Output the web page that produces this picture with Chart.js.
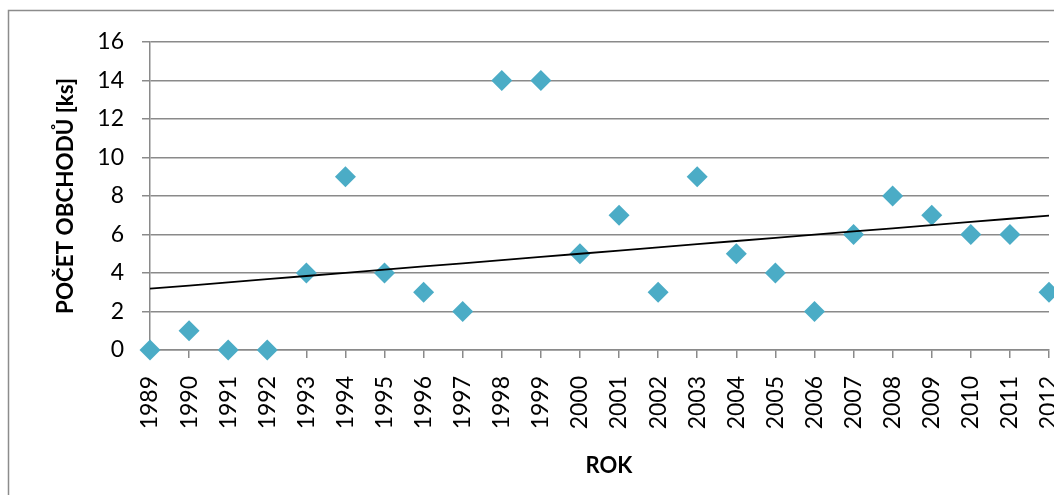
<!DOCTYPE html>
<html lang="cs">
<head>
<meta charset="utf-8">
<title>Počet obchodů podle roku</title>
<script src="https://cdn.jsdelivr.net/npm/chart.js@4/dist/chart.umd.min.js"></script>
<style>
  html, body { margin: 0; padding: 0; background: #fff; overflow: hidden; }
  #wrap { width: 1054px; height: 495px; overflow: hidden; position: relative; }
  canvas { display: block; }
</style>
</head>
<body>
<div id="wrap"><canvas id="c" width="1130" height="495"></canvas></div>
<script>
// Roky (kategorie osy X)
const years = ['1989','1990','1991','1992','1993','1994','1995','1996','1997','1998','1999','2000',
               '2001','2002','2003','2004','2005','2006','2007','2008','2009','2010','2011','2012'];
// Počet obchodů [ks] v jednotlivých letech
const deals = [0, 1, 0, 0, 4, 9, 4, 3, 2, 14, 14, 5, 7, 3, 9, 5, 4, 2, 6, 8, 7, 6, 6, 3];
// Popisky osy Y
const yTicks = [0, 2, 4, 6, 8, 10, 12, 14, 16];

const yTitle = 'POČET OBCHODŮ [ks]';
const xTitle = 'ROK';

// Lineární trend (metoda nejmenších čtverců) přes pořadí roku
function linearTrend(values) {
  const n = values.length;
  const mx = (n - 1) / 2;
  const my = values.reduce((s, v) => s + v, 0) / n;
  let sxy = 0, sxx = 0;
  values.forEach((v, i) => { sxy += (i - mx) * (v - my); sxx += (i - mx) * (i - mx); });
  const k = sxy / sxx;
  const q = my - k * mx;
  return values.map((_, i) => q + k * i);
}
const trend = linearTrend(deals);

const GRID = '#8a8a8a';
const FONT = 'Lato, "Open Sans", sans-serif';

// Rámeček kolem celého grafu
const framePlugin = {
  id: 'frame',
  beforeDraw(chart) {
    const ctx = chart.ctx;
    ctx.save();
    ctx.strokeStyle = '#8c8c8c';
    ctx.lineWidth = 1.5;
    ctx.strokeRect(8.5, 10.5, 2000, 2000);
    ctx.restore();
  }
};

// Popisky os: svislý nadpis vlevo, vodorovný pod osou X
const axisTitlesPlugin = {
  id: 'axisTitles',
  afterDraw(chart) {
    const ctx = chart.ctx;
    ctx.save();
    ctx.fillStyle = '#000';
    ctx.textAlign = 'center';
    ctx.textBaseline = 'middle';

    // svislý nadpis, délka textu cca 236 px
    ctx.font = 'bold 24px ' + FONT;
    const w = ctx.measureText(yTitle).width;
    const size = 24 * 236 / w;
    ctx.font = 'bold ' + size.toFixed(2) + 'px ' + FONT;
    ctx.save();
    ctx.translate(66, 196);
    ctx.rotate(-Math.PI / 2);
    ctx.fillText(yTitle, 0, 0);
    ctx.restore();

    ctx.font = 'bold 22px ' + FONT;
    ctx.fillText(xTitle, 609, 466);
    ctx.restore();
  }
};

new Chart(document.getElementById('c'), {
  type: 'line',
  data: {
    labels: years,
    datasets: [
      {
        label: 'Trend',
        data: trend,
        borderColor: '#000000',
        borderWidth: 1.8,
        pointRadius: 0,
        fill: false,
        clip: false,
        order: 0
      },
      {
        label: 'Počet obchodů',
        data: deals,
        showLine: false,
        pointStyle: 'rectRot',
        pointRadius: 10.5,
        pointBackgroundColor: '#4bacc6',
        pointBorderColor: '#4bacc6',
        pointBorderWidth: 0,
        clip: false,
        order: 1
      }
    ]
  },
  options: {
    responsive: false,
    animation: false,
    events: [],
    layout: { padding: { left: 0, top: 42, right: 81, bottom: 0 } },
    plugins: {
      legend: { display: false },
      tooltip: { enabled: false }
    },
    scales: {
      x: {
        type: 'category',
        offset: false,
        afterFit(scale) { scale.height = 145; },
        grid: {
          drawOnChartArea: false,
          drawTicks: true,
          tickLength: 8,
          color: GRID,
          lineWidth: 1.5
        },
        border: { display: true, color: GRID, width: 1.5 },
        ticks: {
          autoSkip: false,
          minRotation: 90,
          maxRotation: 90,
          padding: 18,
          color: '#000',
          font: { family: FONT, size: 23 }
        },
        title: { display: false, text: xTitle }
      },
      y: {
        min: yTicks[0],
        max: yTicks[yTicks.length - 1],
        afterFit(scale) { scale.width = 150; },
        afterBuildTicks(scale) { scale.ticks = yTicks.map(v => ({ value: v })); },
        grid: {
          color: GRID,
          lineWidth: 1.5,
          tickLength: 8
        },
        border: { display: true, color: GRID, width: 1.5 },
        ticks: {
          padding: 18,
          color: '#000',
          font: { family: FONT, size: 23 }
        },
        title: { display: false, text: yTitle }
      }
    }
  },
  plugins: [framePlugin, axisTitlesPlugin]
});
</script>
</body>
</html>
